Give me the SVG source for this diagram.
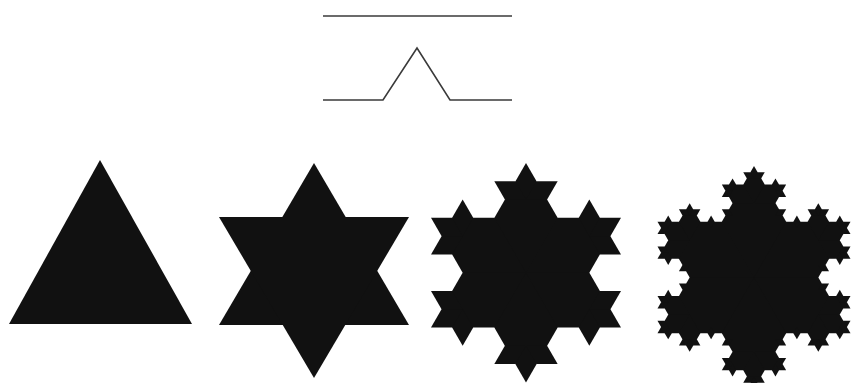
<svg xmlns="http://www.w3.org/2000/svg" xmlns:xlink="http://www.w3.org/1999/xlink" width="856" height="383" viewBox="0 0 856 383">
<style>
.ln{fill:none;stroke:#3a3a3a;stroke-width:1.6;stroke-linejoin:miter}
.k{fill:#111}
</style>
<defs>
<g id="b1"><polygon class="k" points="0.3333333,0 0.5,-0.2886751 0.6666667,0 0.5,0.2886751"/></g>
<g id="b2">
<use href="#b1"/>
<use href="#b1" transform="scale(0.3333333)"/>
<use href="#b1" transform="translate(0.3333333,0) rotate(-60) scale(0.3333333)"/>
<use href="#b1" transform="translate(0.5,-0.2886751) rotate(60) scale(0.3333333)"/>
<use href="#b1" transform="translate(0.6666667,0) scale(0.3333333)"/>
</g>
<g id="b3">
<use href="#b1"/>
<use href="#b2" transform="scale(0.3333333)"/>
<use href="#b2" transform="translate(0.3333333,0) rotate(-60) scale(0.3333333)"/>
<use href="#b2" transform="translate(0.5,-0.2886751) rotate(60) scale(0.3333333)"/>
<use href="#b2" transform="translate(0.6666667,0) scale(0.3333333)"/>
</g>
<polygon id="tri" class="k" points="0,0 0.5,0.8660254 -0.5,0.8660254"/>
</defs>
<rect width="856" height="383" fill="#fff"/>
<g id="initiator"><line class="ln" x1="323" y1="16" x2="512" y2="16"/></g>
<g id="generator"><polyline class="ln" points="323,100 383,100 417,48 450,100 512,100"/></g>
<g id="level0"><polygon class="k" points="100,160 192,324 9,324"/></g>
<g id="level1">
<polygon class="k" points="314,163 409,325 219,325"/>
<polygon class="k" points="314,378 219,217 409,217"/>
</g>
<g id="level2" transform="translate(526,163) scale(190)">
<use href="#tri"/>
<use href="#b2" transform="translate(-0.5,0.8660254) rotate(-60)"/>
<use href="#b2" transform="rotate(60)"/>
<use href="#b2" transform="translate(0.5,0.8660254) rotate(180)"/>
</g>
<g id="level3" transform="translate(754,166) scale(193)">
<use href="#tri"/>
<use href="#b3" transform="translate(-0.5,0.8660254) rotate(-60)"/>
<use href="#b3" transform="rotate(60)"/>
<use href="#b3" transform="translate(0.5,0.8660254) rotate(180)"/>
</g>
</svg>
